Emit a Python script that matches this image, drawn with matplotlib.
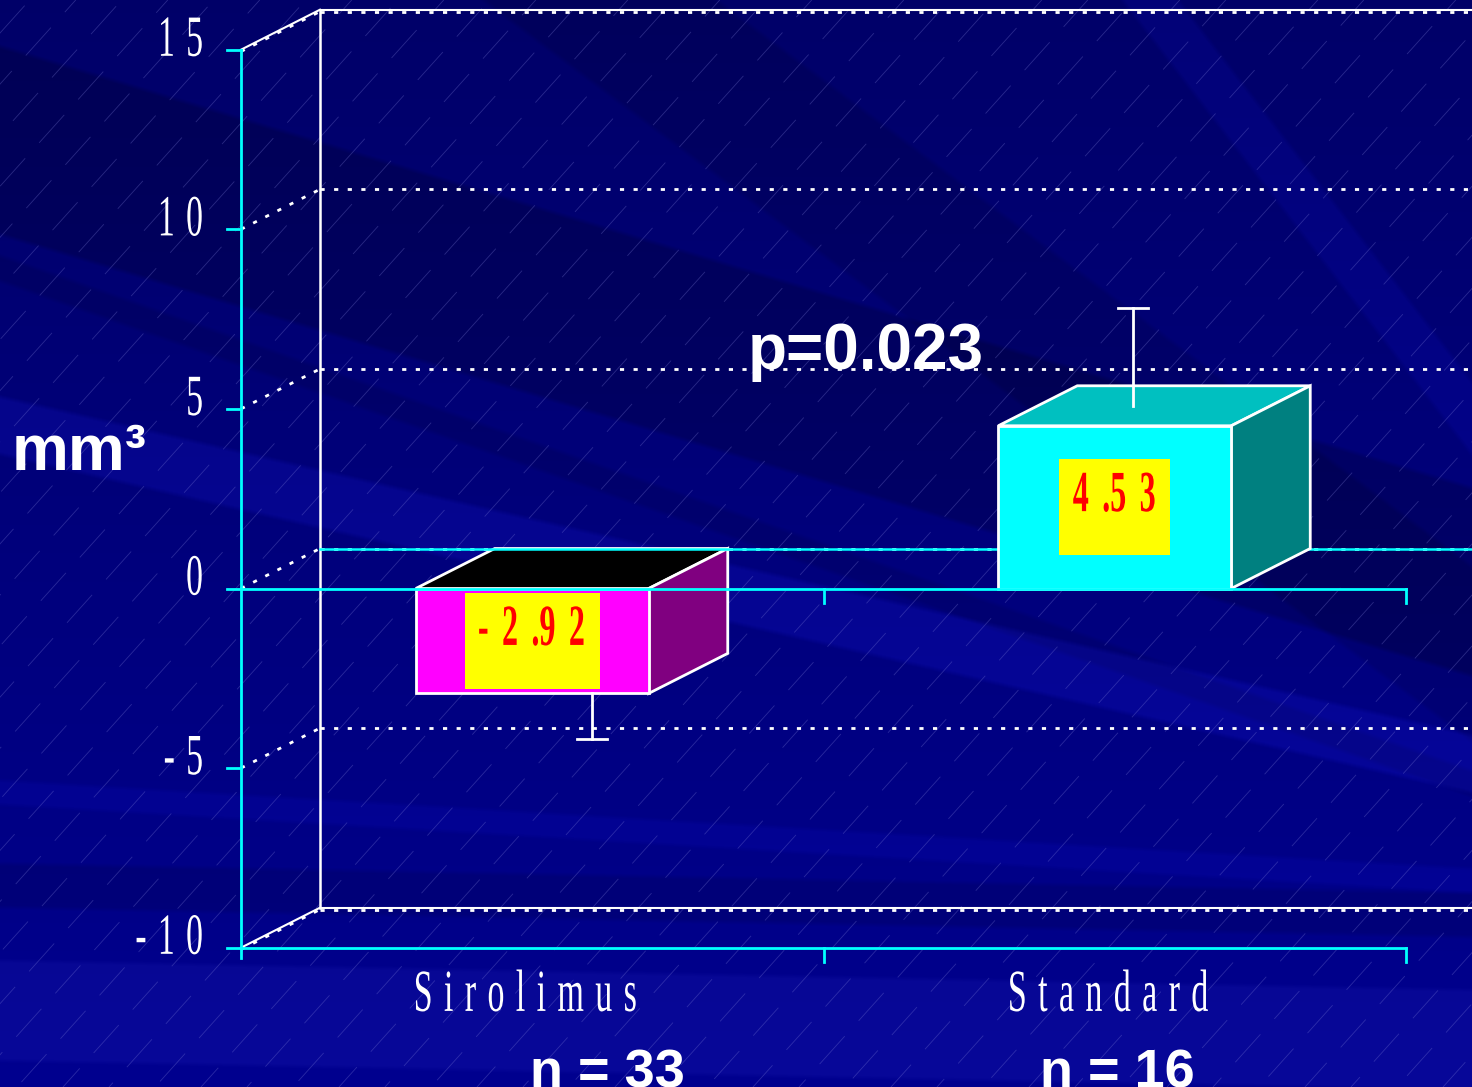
import numpy as np
import matplotlib
matplotlib.use("Agg")
import matplotlib.pyplot as plt
from matplotlib.patches import Polygon, Rectangle
from matplotlib.patheffects import AbstractPathEffect
from matplotlib.transforms import Affine2D

# ---- data -------------------------------------------------------------
categories = ["Sirolimus", "Standard"]
group_sizes = [33, 16]
mean_change = [-2.92, 4.53]          # mm3
error_len = [1.27, 2.72]             # length of the error whisker
y_ticks = [-10, -5, 0, 5, 10, 15]
p_label = "p=0.023"
unit_label = "mm\u00b3"

# ---- styles -----------------------------------------------------------
front_colors = ["#FF00FF", "#00FFFF"]
top_colors = ["#000000", "#00C0C0"]
side_colors = ["#800080", "#008080"]
CYAN = "#00FFFF"
SERIF = ["Liberation Serif", "DejaVu Serif"]
SANS = ["Liberation Sans", "DejaVu Sans"]
HAIR = "\u200a"


class Squeeze(AbstractPathEffect):
    """Narrow the glyph outlines horizontally (condensed lettering)."""

    def __init__(self, sx, anchor="center"):
        super().__init__()
        self.sx = sx
        self.anchor = anchor

    def draw_path(self, renderer, gc, tpath, affine, rgbFace=None):
        v = tpath.vertices
        if len(v) == 0:
            return
        x0, x1 = v[:, 0].min(), v[:, 0].max()
        ref = {"left": x0, "right": x1, "center": 0.5 * (x0 + x1)}[self.anchor]
        t = Affine2D().translate(-ref, 0).scale(self.sx, 1).translate(ref, 0)
        renderer.draw_path(gc, tpath, t + affine, rgbFace)


W, H = 1472, 1087
fig = plt.figure(figsize=(W / 100, H / 100), dpi=100)
ax = fig.add_axes([0, 0, 1, 1])

# scale of the chart: pixels per category unit / per mm3, origin of the front plane
PX_X, PX_Y = 582.5, 35.92
X0, Y0 = 241.0, 588.5
ax.set_xlim(-X0 / PX_X, (W - X0) / PX_X)
ax.set_ylim(-(H - Y0) / PX_Y, Y0 / PX_Y)
ax.axis("off")
xl, yl = ax.get_xlim(), ax.get_ylim()

# depth of the 3-D box (offset of the back wall)
DX, DY = 79 / PX_X, 40 / PX_Y
BAR_W = 0.40
x_pos = np.arange(len(categories)) + 0.5
n_groups = len(categories)


# ---- slide background: navy with soft diagonal bands -------------------
yy, xx = np.mgrid[0:H, 0:W].astype(float)
blue = 0.41 + 0.15 * (yy / H)
rg = np.zeros_like(blue)


def band(x0, y0, slope, half, soft=5.0):
    d = (yy - (y0 + slope * (xx - x0))) / np.sqrt(1 + slope ** 2)
    return np.clip((half - np.abs(d)) / soft + 0.5, 0, 1)


for x0, y0, slope, half, db, drg in [
    (0, 140, 0.30, 90, -0.08, 0.0),
    (0, 268, 0.35, 12, -0.05, 0.0),
    (0, 425, 0.23, 28, 0.08, 0.02),
    (600, 0, 0.75, 70, -0.05, 0.0),
    (1150, 0, 1.3, 22, 0.06, 0.01),
    (0, 792, 0.06, 12, 0.05, 0.01),
    (0, 885, 0.02, 22, -0.06, 0.0),
    (0, 1010, 0.02, 50, 0.04, 0.03),
]:
    m = band(x0, y0, slope, half)
    blue += m * db
    rg += m * drg

bg = np.dstack([rg, rg, np.clip(blue, 0, 1)])
ax.imshow(bg, extent=(xl[0], xl[1], yl[0], yl[1]), origin="upper",
          aspect="auto", zorder=0, interpolation="bilinear")

# faint hairline texture running up to the right
ang = np.deg2rad(48)
for i, c in enumerate(np.arange(-H, W + 50, 46)):
    xs = np.array([c, c + H / np.tan(ang)]) / W
    ys = np.array([0.0, 1.0])
    ax.plot(xs, ys, transform=ax.transAxes, color=(0.5, 0.5, 0.85),
            alpha=0.32, lw=0.6, zorder=0.5,
            linestyle=(int(i * 23) % 70, (45, 25)))

# ---- back wall and grid ------------------------------------------------
dot = dict(color="white", lw=2.0, linestyle=(0, (1.5, 3.4)),
           dash_capstyle="butt", zorder=1)
x_right = n_groups + DX + 0.2
ymin, ymax = min(y_ticks), max(y_ticks)

ax.plot([DX, DX], [ymin + DY, ymax + DY], color="white", lw=1.8, zorder=1.1)
for v in y_ticks:
    if v in (ymin, ymax):
        ax.plot([DX, x_right], [v + DY, v + DY], color="white", lw=1.5, zorder=1.1)
        ax.plot([DX, x_right], [v + DY - 0.06, v + DY - 0.06], **dot)
        ax.plot([0, DX], [v, v + DY], color="white", lw=1.5, zorder=1.1)
        ax.plot([0, DX], [v - 0.05, v + DY - 0.05], **dot)
    else:
        ax.plot([DX, x_right], [v + DY, v + DY], **dot)
        ax.plot([0, DX], [v, v + DY], **dot)

# zero plane line on the back wall
ax.plot([DX, x_right], [DY, DY], color=CYAN, lw=1.8, zorder=3)

# ---- front axes ----------------------------------------------------------
tick_len_x = 14 / PX_X
tick_len_y = 14 / PX_Y
ax.plot([0, 0], [ymin - tick_len_y * 0.75, ymax], color=CYAN, lw=2.0, zorder=6)
for v in y_ticks:
    ax.plot([-tick_len_x, 0], [v, v], color=CYAN, lw=2.0, zorder=6)
for v in (0, ymin):
    ax.plot([0, n_groups], [v, v], color=CYAN, lw=2.0, zorder=6)
    for k in range(1, n_groups + 1):
        ax.plot([k, k], [v, v - tick_len_y], color=CYAN, lw=2.0, zorder=6)


def spaced(s, gap):
    return gap.join(s).replace(gap + "." + gap, gap + ".")


for v in y_ticks:
    ax.text(-37 / PX_X, v + 0.22, spaced(str(v), " " + HAIR), ha="right",
            va="center", color="white", fontsize=42, family=SERIF, zorder=7,
            path_effects=[Squeeze(0.58, "right")])

# ---- 3-D bars ----------------------------------------------------------
bar_z = [2, 4]
err_dx = [0.76, 0.23]     # whisker position across the bar depth
err_dy = [0.0, 0.5]
n_shift = [75, 3]         # horizontal shift of the group-size label (px)
cap = 15 / PX_X
label_sx = 0.55
plate_h = 96 / PX_Y

fig.canvas.draw()
renderer = fig.canvas.get_renderer()

for i, (xc, val) in enumerate(zip(x_pos, mean_change)):
    xa, xb = xc - BAR_W / 2, xc + BAR_W / 2
    top = max(val, 0)
    z = bar_z[i]
    ec = dict(edgecolor="white", linewidth=2.0, joinstyle="miter")
    ax.add_patch(Polygon([(xa, top), (xb, top), (xb + DX, top + DY), (xa + DX, top + DY)],
                         closed=True, facecolor=top_colors[i], zorder=z, **ec))
    ax.add_patch(Polygon([(xb, 0), (xb + DX, DY), (xb + DX, val + DY), (xb, val)],
                         closed=True, facecolor=side_colors[i], zorder=z, **ec))
    ax.add_patch(Rectangle((xa, min(val, 0)), BAR_W, abs(val),
                           facecolor=front_colors[i], zorder=z + 0.1, **ec))

    # whisker
    ex = xc + err_dx[i] * DX
    e0 = val + err_dy[i] * DY
    e1 = e0 + np.sign(val) * error_len[i]
    ax.plot([ex, ex], [e0, e1], color="white", lw=2.0, zorder=z + 0.2)
    ax.plot([ex - cap, ex + cap], [e1, e1], color="white", lw=2.0, zorder=z + 0.2)

    # value label on a yellow plate
    t = ax.text(xc, val / 2 + 10 / PX_Y, spaced(f"{val:.2f}", " " + HAIR + HAIR),
                ha="center", va="center", color="red", fontsize=42,
                fontweight="bold", family=SERIF, zorder=z + 0.4,
                path_effects=[Squeeze(label_sx, "center")])
    w_px = t.get_window_extent(renderer).width * label_sx + 28
    w = w_px / PX_X
    ax.add_patch(Rectangle((xc - w / 2, val / 2 - plate_h / 2), w, plate_h,
                           facecolor="yellow", edgecolor="none", zorder=z + 0.3))

    # category and group size
    ax.text(xc - 6 / PX_X, -11.37, spaced(categories[i], " " + HAIR), ha="center",
            va="center", color="white", fontsize=43, family=SERIF, zorder=7,
            path_effects=[Squeeze(0.57, "center")])
    ax.text(xc + n_shift[i] / PX_X, -(H + 1 - Y0) / PX_Y, f"n = {group_sizes[i]}",
            ha="center", va="baseline", color="white", fontsize=39,
            fontweight="bold", family=SANS, zorder=7)

# ---- annotations ---------------------------------------------------------
ax.text(1.073, 6.58, p_label, ha="center", va="center", color="white",
        fontsize=46, fontweight="bold", family=SANS, zorder=7)
ax.text(-229 / PX_X, 3.76, unit_label, ha="left", va="center", color="white",
        fontsize=46, fontweight="bold", family=SANS, zorder=7)

fig.savefig("out.png", dpi=100, facecolor="#000080")
